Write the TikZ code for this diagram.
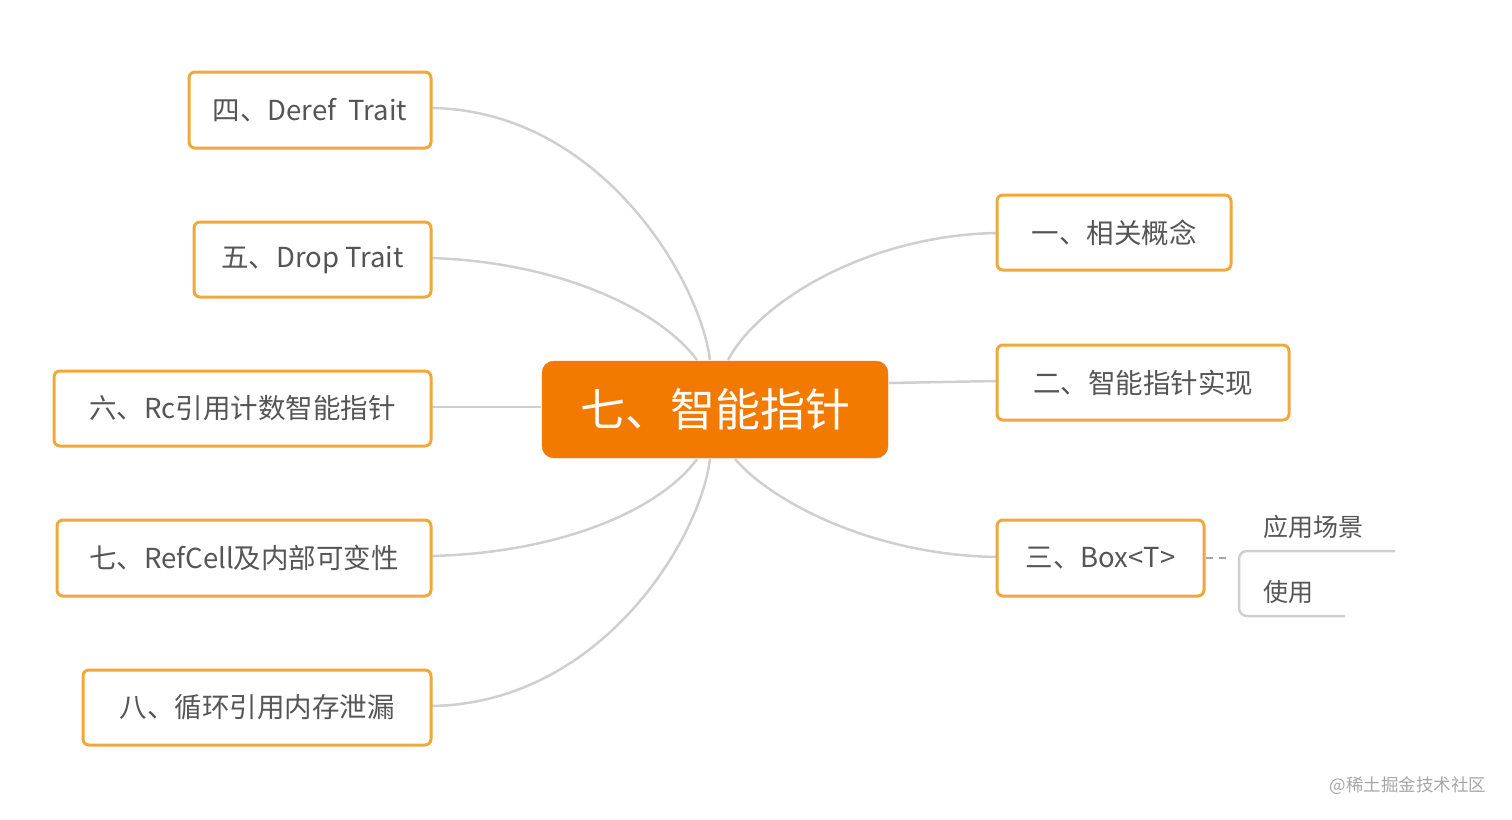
\documentclass[tikz,border=0pt]{standalone}
\usepackage{fontspec}
\setmainfont{Noto Sans CJK SC}
\begin{document}
\begin{tikzpicture}[x=1pt,y=-1pt,
  box/.style={draw=boxor,line width=3pt,rounded corners=6pt,fill=white,inner sep=0pt,text=txt,font=\fontsize{27.5}{32}\selectfont},
  link/.style={draw=lnk,line width=2.5pt}]
\definecolor{boxor}{HTML}{F0A83A}
\definecolor{ctr}{HTML}{F27A00}
\definecolor{txt}{HTML}{555555}
\definecolor{lnk}{HTML}{CFCFCF}
\useasboundingbox (0,0) rectangle (1512,819);
% center
\node[draw=ctr,fill=ctr,rounded corners=12pt,minimum width=346pt,minimum height=97pt,text=white,font=\fontsize{45}{50}\selectfont] (c) at (715,409.5) {七、智能指针};
\coordinate (ct1) at (710,360);
\coordinate (ct2) at (697,360);
\coordinate (cb1) at (697,459);
\coordinate (cb2) at (710,459);
\coordinate (ct3) at (728,360);
\coordinate (cb3) at (735,459);
% links
\draw[link] (431,108) coordinate (l4) .. controls (600,110) and (700,280) .. (ct1);
\draw[link] (431,258) .. controls (560,262) and (660,310) .. (ct2);
\draw[link] (431,407) -- (541,407);
\draw[link] (431,556) .. controls (560,553) and (660,510) .. (cb1);
\draw[link] (431,706) .. controls (600,704) and (700,540) .. (cb2);
\draw[link] (997,233) .. controls (870,235) and (760,300) .. (ct3);
\draw[link] (889,383) -- (997,381);
\draw[link] (997,557) .. controls (870,555) and (770,500) .. (cb3);
% boxes
\node[box,minimum width=242pt,minimum height=76pt] (b4) at (310,110) {四、Deref\ \ Trait};
\node[box,minimum width=237pt,minimum height=75pt] (b5) at (312.5,259.5) {五、Drop Trait};
\node[box,minimum width=377pt,minimum height=75pt] (b6) at (242.5,408.5) {六、Rc引用计数智能指针};
\node[box,minimum width=374pt,minimum height=76pt] (b7) at (244,558) {七、RefCell及内部可变性};
\node[box,minimum width=348pt,minimum height=75pt] (b8) at (257,707.5) {八、循环引用内存泄漏};
\node[box,minimum width=234pt,minimum height=75pt] (b1) at (1114,232.5) {一、相关概念};
\node[box,minimum width=292pt,minimum height=75pt] (b2) at (1143,382.5) {二、智能指针实现};
\node[box,minimum width=207pt,minimum height=76pt] (b3) at (1100.5,558) {三、Box<T>};
% subtree
\coordinate (d1) at (1206,558);
\coordinate (d2) at (1232,558);
\draw[draw=gray!70,line width=2.5pt,dash pattern=on 7pt off 6pt] (d1) -- (d2);
\draw[link,rounded corners=8pt] (1395,551) -- (1239,551) -- (1239,616) -- (1345,616);
\node[text=txt,font=\fontsize{25}{28}\selectfont,anchor=west] (s1) at (1260,527) {应用场景};
\node[text=txt,font=\fontsize{25}{28}\selectfont,anchor=west] (s2) at (1260,592) {使用};
\node[text=gray!70,font=\fontsize{17.5}{20}\selectfont] (wm) at (1408,786) {@稀土掘金技术社区};
\end{tikzpicture}
\end{document}
